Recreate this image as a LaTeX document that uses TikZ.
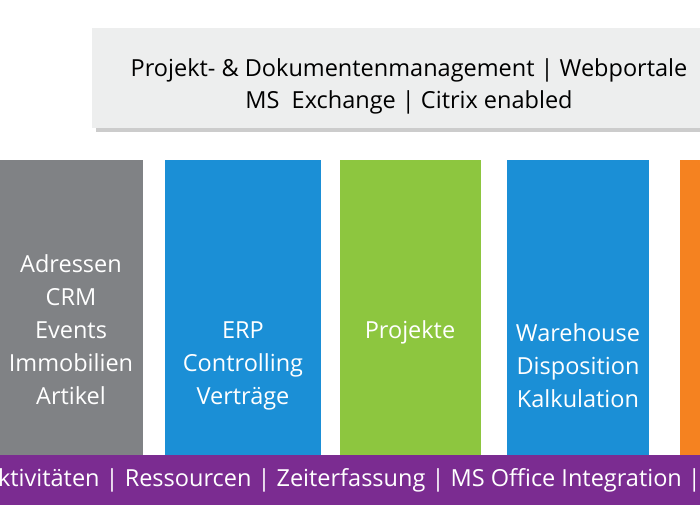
\documentclass[tikz,border=0pt]{standalone}
\usepackage{fontspec}
\setmainfont{Open Sans}
\usetikzlibrary{positioning}
\definecolor{barGray}{HTML}{808285}
\definecolor{barBlue}{HTML}{1B8FD6}
\definecolor{barGreen}{HTML}{8DC63F}
\definecolor{barOrange}{HTML}{F58220}
\definecolor{barPurple}{HTML}{7B2C91}
\definecolor{topGray}{HTML}{EDEEEE}
\begin{document}
\begin{tikzpicture}[x=1pt,y=-1pt,
  column/.style={text=white, align=center, font=\fontsize{23.5}{33}\selectfont},
  banner/.style={align=center, font=\fontsize{23.5}{32}\selectfont}
]
\useasboundingbox (0,0) rectangle (700,523);
\clip (0,0) rectangle (700,523);
\fill[white] (0,0) rectangle (700,523);

% top banner with shadow
\fill[black!20] (96,32) rectangle (704,132);
\fill[topGray] (92,28) rectangle (710,128);
\node[banner] (top) at (409,86) {Projekt- \& Dokumentenmanagement | Webportale\\MS~ Exchange | Citrix enabled};

% columns
\fill[barGray] (-5,160) rectangle (143,455);
\fill[barBlue] (165,160) rectangle (321,455);
\fill[barGreen] (340,160) rectangle (481,455);
\fill[barBlue] (507,160) rectangle (649,455);
\fill[barOrange] (680,160) rectangle (710,455);

\node[column] (adr) at (71,330) {Adressen\\CRM\\Events\\Immobilien\\Artikel};
\node[column] (erp) at (243,366) {ERP\\Controlling\\Verträge};
\node[column] (proj) at (410,332) {Projekte};
\node[column] (wh) at (578,366) {Warehouse\\Disposition\\Kalkulation};

% bottom bar
\fill[barPurple] (-5,455) rectangle (710,505);
\node[column, anchor=west, inner sep=0pt] (base) at (-17,480) {Aktivitäten | Ressourcen | Zeiterfassung | MS Office Integration |};
\end{tikzpicture}
\end{document}
